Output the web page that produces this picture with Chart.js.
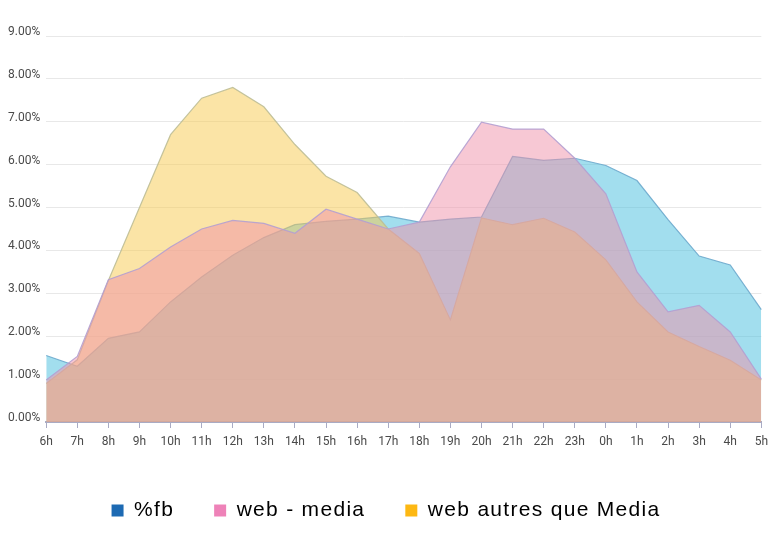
<!DOCTYPE html>
<html>
<head>
<meta charset="utf-8">
<script src="https://cdn.jsdelivr.net/npm/chart.js@4"></script>
<style>
  html, body { margin: 0; padding: 0; background: #fff; }
  #wrap { width: 770px; height: 548px; }
</style>
</head>
<body>
<div id="wrap"><canvas id="trafficChart" width="770" height="548"></canvas></div>
<script>
// Hours of the day
const hours = ['6h', '7h', '8h', '9h', '10h', '11h', '12h', '13h', '14h', '15h', '16h', '17h',
               '18h', '19h', '20h', '21h', '22h', '23h', '0h', '1h', '2h', '3h', '4h', '5h'];

// Share of traffic per hour (%)
const fbShare = [1.55, 1.30, 1.95, 2.10, 2.80, 3.38, 3.89, 4.30, 4.60, 4.68, 4.73, 4.80,
                 4.66, 4.73, 4.78, 6.19, 6.10, 6.15, 5.98, 5.63, 4.72, 3.87, 3.66, 2.62];
const webMedia = [0.98, 1.53, 3.32, 3.58, 4.08, 4.50, 4.70, 4.63, 4.40, 4.96, 4.73, 4.50,
                  4.66, 5.95, 6.99, 6.83, 6.83, 6.15, 5.32, 3.50, 2.57, 2.72, 2.10, 1.00];
const webAutres = [0.90, 1.45, 3.30, 5.00, 6.70, 7.55, 7.80, 7.35, 6.47, 5.73, 5.35, 4.50,
                   3.93, 2.38, 4.76, 4.60, 4.75, 4.43, 3.78, 2.80, 2.10, 1.76, 1.44, 0.98];

const yTicks = [0, 1, 2, 3, 4, 5, 6, 7, 8, 9];

const legendNames = ['%fb', 'web - media', 'web autres que Media'];
const legendColors = ['#1d6ab3', '#ee82b8', '#fdb813'];

// legend text in the original is a bit spaced out
const legendSpacing = {
    id: 'legendSpacing',
    beforeInit(chart) {
        const legend = chart.legend;
        if (!legend) return;
        const fit = legend.fit;
        const draw = legend.draw;
        legend.fit = function () {
            this.ctx.save();
            this.ctx.letterSpacing = '1.3px';
            fit.call(this);
            this.ctx.restore();
        };
        legend.draw = function () {
            this.ctx.save();
            this.ctx.letterSpacing = '1.3px';
            draw.call(this);
            this.ctx.restore();
        };
    }
};

const ctx = document.getElementById('trafficChart').getContext('2d');
const chart = new Chart(ctx, {
    type: 'line',
    data: {
        labels: hours,
        datasets: [
            {
                label: legendNames[0],
                data: fbShare,
                backgroundColor: 'rgba(69, 189, 221, 0.5)',
                borderColor: 'rgba(110, 170, 205, 0.9)',
                borderWidth: 1.2,
                fill: 'origin',
                order: 3
            },
            {
                label: legendNames[1],
                data: webMedia,
                backgroundColor: 'rgba(239, 145, 169, 0.5)',
                borderColor: 'rgba(180, 160, 210, 0.9)',
                borderWidth: 1.2,
                fill: 'origin',
                order: 1
            },
            {
                label: legendNames[2],
                data: webAutres,
                backgroundColor: 'rgba(247, 201, 77, 0.5)',
                borderColor: 'rgba(190, 190, 150, 0.9)',
                borderWidth: 1.2,
                fill: 'origin',
                order: 2
            }
        ]
    },
    options: {
        responsive: false,
        animation: false,
        layout: { padding: { top: 36, right: 0, left: 2, bottom: 17 } },
        elements: { point: { radius: 0 }, line: { tension: 0 } },
        plugins: {
            tooltip: { enabled: false },
            legend: {
                position: 'bottom',
                labels: {
                    font: { family: 'Liberation Sans', size: 21 },
                    color: '#333',
                    boxWidth: 12,
                    boxHeight: 12,
                    padding: 40,
                    generateLabels: () => legendNames.map((name, i) => ({
                        text: name,
                        fillStyle: legendColors[i],
                        strokeStyle: legendColors[i],
                        lineWidth: 0,
                        datasetIndex: i,
                        hidden: false
                    }))
                }
            }
        },
        scales: {
            x: {
                offset: false,
                afterFit: axis => { axis.height += 4; },
                grid: { drawOnChartArea: false, drawTicks: true, tickLength: 6, color: '#a9abc4' },
                border: { color: '#a9abc4', width: 2 },
                ticks: {
                    font: { family: 'Roboto', size: 12, lineHeight: 2 },
                    color: '#4a4a4a',
                    maxRotation: 0,
                    autoSkip: false,
                    padding: 2
                }
            },
            y: {
                min: 0,
                max: 9,
                afterBuildTicks: axis => { axis.ticks = yTicks.map(v => ({ value: v })); },
                grid: { color: '#e8e8e8', drawTicks: false },
                border: { display: false },
                ticks: {
                    font: { family: 'Roboto', size: 12 },
                    color: '#4a4a4a',
                    padding: 6,
                    labelOffset: -4,
                    callback: v => v.toFixed(2) + '%'
                }
            }
        }
    },
    plugins: [legendSpacing]
});
</script>
</body>
</html>
